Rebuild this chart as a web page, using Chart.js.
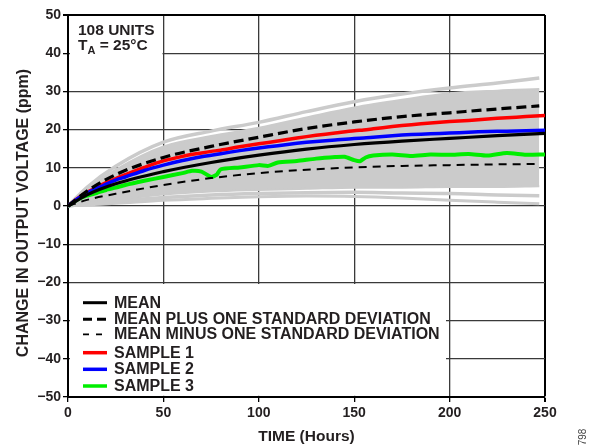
<!DOCTYPE html>
<html>
<head>
<meta charset="utf-8">
<script src="https://cdn.jsdelivr.net/npm/chart.js@4/dist/chart.umd.min.js"></script>
<style>
  body { margin: 0; background: #fff; }
  canvas { display: block; }
</style>
</head>
<body>
<canvas id="myChart" width="594" height="447"></canvas>
<script>
// hours for the smooth statistic curves and the grey spread of the 108 units
const statHours = [0, 10, 25, 50, 75, 100, 125, 150, 175, 200, 225, 247];
const meanHours = [0, 10, 25, 50, 75, 100, 125, 150, 175, 200, 225, 250];
const meanVals = [0, 2.9, 5.8, 9.0, 11.4, 13.3, 14.9, 16.1, 17.0, 17.7, 18.4, 19.0];
const plusVals = [0, 3.9, 8.2, 12.7, 15.6, 18.0, 20.3, 22.0, 23.4, 24.4, 25.4, 26.2];
const minusVals = [0, 1.6, 3.2, 5.5, 7.3, 8.6, 9.5, 10.1, 10.5, 10.7, 10.9, 11.0];

// grey spread of all units
const greyTop = [0, 4.9, 10.4, 16.7, 19.6, 21.9, 24.7, 27.3, 29.3, 30.9, 32.2, 33.5];
const bandHi = [0, 4.3, 9.5, 15.6, 18.3, 20.5, 23.2, 25.8, 27.8, 29.5, 30.2, 30.6];
const bandLo = [0, 0.8, 1.6, 3.0, 3.8, 4.2, 4.5, 4.8, 4.8, 5.0, 5.0, 5.2];
const greyLow1 = [0, 0.5, 1.2, 2.2, 2.9, 3.3, 3.5, 3.6, 3.4, 3.3, 2.9, 2.7];
const greyLow2 = [0, 0.3, 0.7, 1.5, 2.0, 2.4, 2.6, 2.5, 2.1, 1.5, 1.0, 0.6];

// samples
const sampleHours = [0, 5, 10, 15, 20, 25, 30, 40, 50, 60, 70, 75, 80, 90, 100, 110, 120, 130, 140, 150, 155, 160, 170, 180, 190, 200, 210, 220, 230, 240, 250];
const sample1 = [0, 2.0, 3.6, 4.9, 6.1, 7.2, 8.2, 10.1, 11.8, 13.0, 13.9, 14.3, 14.6, 15.5, 16.3, 17.0, 17.8, 18.5, 19.1, 19.7, 19.9, 20.2, 20.8, 21.3, 21.7, 22.1, 22.4, 22.8, 23.1, 23.4, 23.7];
const sample2 = [0, 1.9, 3.4, 4.6, 5.7, 6.8, 7.6, 9.3, 10.7, 11.9, 12.9, 13.3, 13.7, 14.5, 15.2, 15.8, 16.4, 16.9, 17.3, 17.7, 17.8, 18.0, 18.4, 18.7, 18.9, 19.1, 19.3, 19.5, 19.6, 19.7, 19.8];
const greenHours = [0, 5, 10, 15, 20, 25, 30, 40, 50, 60, 65, 70, 75, 78, 80, 90, 100, 105, 110, 120, 130, 140, 145, 150, 153, 156, 160, 170, 180, 190, 200, 210, 220, 230, 240, 250];
const sample3 = [0, 1.7, 2.7, 3.4, 4.2, 4.8, 5.5, 6.6, 7.6, 8.6, 9.2, 9.0, 7.6, 8.2, 9.6, 10.1, 10.7, 10.5, 11.4, 11.8, 12.4, 12.8, 12.9, 12.0, 11.7, 12.7, 13.2, 13.5, 13.1, 13.5, 13.4, 13.6, 13.2, 13.9, 13.4, 13.5];

const xTicks = [0, 50, 100, 150, 200, 250];
const yTicks = [-50, -40, -30, -20, -10, 0, 10, 20, 30, 40, 50];

const legendItems = [
  { text: "MEAN", color: "#000", width: 3, dash: [] },
  { text: "MEAN PLUS ONE STANDARD DEVIATION", color: "#000", width: 3, dash: [9, 5] },
  { text: "MEAN MINUS ONE STANDARD DEVIATION", color: "#000", width: 1.8, dash: [6, 7] },
  { text: "SAMPLE 1", color: "#ff0000", width: 3.5, dash: [] },
  { text: "SAMPLE 2", color: "#0000ff", width: 3.5, dash: [] },
  { text: "SAMPLE 3", color: "#00ee00", width: 3.5, dash: [] },
];

const pts = (xs, ys) => xs.map((x, i) => ({ x: x, y: ys[i] }));
const GREY = "#cbcbcb";
const FONT = "'Liberation Sans', Arial, sans-serif";
const TEXT = "#231f20";

const line = (data, color, width, extra) => Object.assign({
  data: data,
  borderColor: color,
  borderWidth: width,
  pointRadius: 0,
  fill: false,
  tension: 0,
}, extra || {});

const datasets = [
  line(pts(meanHours, meanVals), "#000", 3.2, { cubicInterpolationMode: "monotone" }),
  line(pts(statHours, plusVals), "#000", 3.2, { borderDash: [10, 5], cubicInterpolationMode: "monotone" }),
  line(pts(statHours, minusVals), "#000", 2, { borderDash: [8, 6], cubicInterpolationMode: "monotone" }),
  line(pts(sampleHours, sample2), "#0000ff", 3.5, { tension: 0.3 }),
  line(pts(sampleHours, sample1), "#ff0000", 3.5, { tension: 0.3 }),
  line(pts(greenHours, sample3), "#00ee00", 4, { tension: 0.2 }),
  line(pts(statHours, greyTop), GREY, 3.5, { cubicInterpolationMode: "monotone" }),
  line(pts(statHours, greyLow1), GREY, 3.5, { cubicInterpolationMode: "monotone" }),
  line(pts(statHours, greyLow2), GREY, 3, { cubicInterpolationMode: "monotone" }),
  line(pts(statHours, bandHi), GREY, 2, { cubicInterpolationMode: "monotone" }),
  line(pts(statHours, bandLo), GREY, 2, { cubicInterpolationMode: "monotone", fill: "-1", backgroundColor: GREY }),
];

// white boxes behind the annotations, legend and labels
const overlay = {
  id: "overlay",
  beforeDatasetsDraw(chart) {
    const ctx = chart.ctx;
    ctx.save();
    ctx.fillStyle = "#fff";
    ctx.fillRect(70, 16, 92.5, 39);
    ctx.fillRect(70, 284, 376, 111.8);
    ctx.restore();
  },
  afterDraw(chart) {
    const ctx = chart.ctx;
    ctx.save();
    ctx.fillStyle = TEXT;
    ctx.textBaseline = "middle";
    ctx.textAlign = "left";

    ctx.font = "bold 15.5px " + FONT;
    ctx.fillText("108 UNITS", 78, 31);
    ctx.fillText("T", 78, 46);
    const tw = ctx.measureText("T").width;
    ctx.font = "bold 11px " + FONT;
    ctx.fillText("A", 78 + tw, 51);
    const aw = ctx.measureText("A").width;
    ctx.font = "bold 15.5px " + FONT;
    ctx.fillText(" = 25°C", 78 + tw + aw, 46);

    // legend
    const rows = [302.7, 319.3, 334.3, 352.7, 369.3, 386];
    legendItems.forEach((it, i) => {
      const y = rows[i];
      ctx.beginPath();
      ctx.setLineDash(it.dash);
      ctx.lineWidth = it.width;
      ctx.strokeStyle = it.color;
      ctx.moveTo(83, y);
      ctx.lineTo(107, y);
      ctx.stroke();
      ctx.setLineDash([]);
      ctx.font = "bold 16px " + FONT;
      ctx.fillText(it.text, 114, y + 0.5);
    });

    // y title
    ctx.save();
    ctx.translate(24, 213);
    ctx.rotate(-Math.PI / 2);
    ctx.textAlign = "center";
    ctx.font = "bold 16px " + FONT;
    ctx.fillText("CHANGE IN OUTPUT VOLTAGE (ppm)", 0, 0);
    ctx.restore();

    // figure number
    ctx.save();
    ctx.translate(583, 437);
    ctx.rotate(-Math.PI / 2);
    ctx.textAlign = "center";
    ctx.fillStyle = "#444";
    ctx.font = "10px " + FONT;
    ctx.fillText("798", 0, 0);
    ctx.restore();

    ctx.restore();
  },
};

const gridColor = (edge) => (c) => (c.tick && c.tick.value === edge ? "#000" : "#3a3a3a");
const gridWidth = (edge) => (c) => (c.tick && c.tick.value === edge ? 2 : 1.3);

const config = {
  type: "line",
  data: { datasets: datasets },
  options: {
    responsive: false,
    animation: false,
    devicePixelRatio: 1,
    layout: { padding: { top: 15, right: 49, bottom: 0, left: 0 } },
    plugins: {
      legend: { display: false },
      tooltip: { enabled: false },
    },
    scales: {
      x: {
        type: "linear",
        min: 0,
        max: 250,
        afterBuildTicks: (s) => { s.ticks = xTicks.map((v) => ({ value: v })); },
        afterFit: (s) => { s.height = 50; },
        ticks: {
          color: TEXT,
          padding: 3,
          maxRotation: 0,
          font: { family: FONT, size: 14, weight: "bold" },
        },
        grid: { color: gridColor(250), lineWidth: gridWidth(250), tickLength: 5, tickColor: "#000" },
        border: { color: "#000", width: 2 },
        title: {
          display: true,
          text: "TIME (Hours)",
          color: TEXT,
          font: { family: FONT, size: 15.5, weight: "bold" },
          padding: { top: 0, bottom: 1 },
        },
      },
      y: {
        min: -50,
        max: 50,
        afterBuildTicks: (s) => { s.ticks = yTicks.map((v) => ({ value: v })); },
        afterFit: (s) => { s.width = 68; },
        ticks: {
          color: TEXT,
          padding: 2,
          font: { family: FONT, size: 14, weight: "bold" },
          callback: (v) => (v < 0 ? "\u2212" + Math.abs(v) : String(v)),
        },
        grid: { color: gridColor(50), lineWidth: gridWidth(50), tickLength: 5, tickColor: "#000" },
        border: { color: "#000", width: 2 },
      },
    },
  },
  plugins: [overlay],
};

new Chart(document.getElementById("myChart"), config);
</script>
</body>
</html>
